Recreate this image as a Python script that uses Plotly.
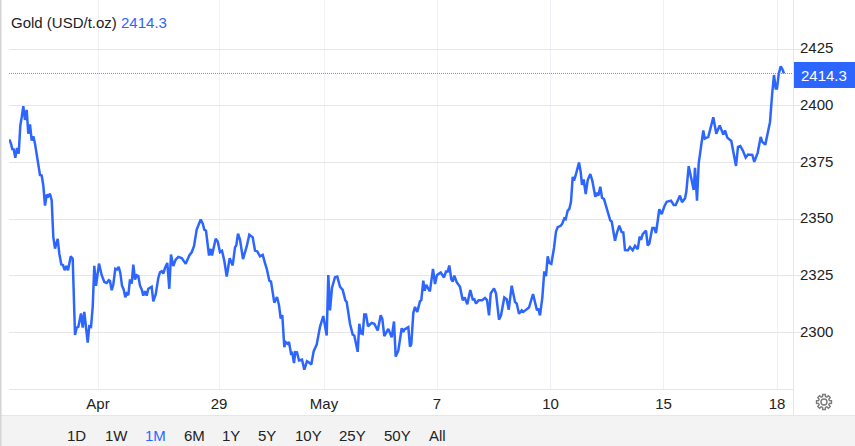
import math
import plotly.graph_objects as go

W, H = 855, 446
PLOT_L, PLOT_R, PLOT_B = 9, 793, 389

title_name = "Gold (USD/t.oz)"
current = 2414.3
y_ticks = [2300, 2325, 2350, 2375, 2400, 2425]
x_tick_pos = [98, 219, 324, 437, 550.5, 663.5, 777]
x_tick_text = ["Apr", "29", "May", "7", "10", "15", "18"]
ranges = ["1D", "1W", "1M", "6M", "1Y", "5Y", "10Y", "25Y", "50Y", "All"]
range_pos = [76, 116, 155, 194, 231, 267, 308, 352, 397, 437]

t = [9.3,11,12.3,13.7,15.3,17,18.7,20.3,21.7,23.3,25,26.7,28.3,30,31.7,33.3,35,37,38.7,40,41.7,43.3,45,46.7,48.3,50,51.7,53.3,55,57.7,59.3,61.3,63,64.7,66.3,68,70.7,72.7,75,76.7,78.3,81,82.7,84.3,87.7,89.3,91,92.7,94.3,96,99,101.7,104.3,106.7,108.7,
110,111.7,113.3,115.3,117,118.7,120.3,122,123.7,125.3,126.7,128.3,130,131.7,133.3,135,136.7,138.3,140,141.7,143.3,145,146.7,148.3,151.7,153.3,155.7,158.3,160,161.7,163.3,165,167.3,169.3,171,173.3,175.7,178.3,181.7,185.7,189.3,191.7,194,196.7,199,200.7,202.7,204.3,206,209,210.7,212,
215.7,217.7,220,222,224.3,226.7,229.7,232.7,235,236.3,238,240,243,246.7,249.3,252.7,255,257.3,260,262.7,265,267,269.3,271,274.3,277,279,280.7,282.3,284.3,285.7,287.7,289,291,292.3,294,295.3,297,299,302,304.3,307,309.3,311.3,313.7,316.7,320,
323.3,326.7,328.3,330,332,335,337.3,340,342.7,345.3,346.7,350,352.7,354.3,357.7,359.3,361,362.7,364.3,366,368,371.7,374.3,377.7,380.7,382.3,384.3,388.3,391.7,394,395.7,398.3,401.7,403.3,404.3,408.3,410,411.3,413.3,415,417.3,420,421.3,423.3,424.7,426.3,427.7,429.3,
430,433,435,437,438.7,440.7,444,446,447.7,449.3,451.3,452.7,454.3,456.7,460,462.7,464.7,467.3,470.3,472.7,474.3,476,478.7,482.3,485,487,489,490.7,494,496,499,501,504.3,506.7,508.7,511.7,515,516.7,519,521.7,523.3,526.7,529,533,537,538.3,540,
542.3,544.3,546,547.7,549.3,551.3,554,556,557.7,560.7,562.3,564.3,565.7,567.7,569.3,571,572.7,574,575.7,579,580.7,582,583.7,585.7,587.7,590.3,592.3,595.3,597,598.3,600.3,602,604,606,608.3,610.3,611.7,613.7,615,617,619.3,621.7,623.3,625,626.7,628,630,632.7,635,637.7,639.7,641,642.7,646,647.7,649.3,652.3,654.3,656,659.3,
661.7,664.3,666.7,669,671,673.7,675.7,680,682,685,686.3,688.7,693.7,695,697,698.7,700.7,703.3,704.7,708.3,713.3,716.3,719.7,723.3,725,727.3,731.3,736,738,740.3,742.7,745.7,748,752.3,754.3,757.7,760.7,762.3,765.3,767.7,770,772.3,774,775.7,777,778.7,780.7,782.3,784]

price = [2385.2,2383.3,2380.9,2380.8,2377.1,2381.4,2378.9,2391.3,2395,2399.9,2393.8,2398.2,2387.7,2391.8,2384.7,2386.6,2383.3,2377.4,2371.2,2369.5,2369.3,2364.9,2356,2360.8,2360.1,2361.2,2358.3,2342.2,2337,2341.3,2334.8,2330.1,2329.7,2327.5,2329.4,2327.5,2333.6,2332.6,2298.9,2302.2,2302.5,2308.4,2302.2,2309.1,2295.6,2302.8,2302.5,2311.3,2329.4,2320.6,2330.4,2325.3,2322.3,2321.9,2323.1,
2322.7,2318.7,2321.2,2328.1,2327.8,2329,2326.3,2320.7,2319,2315.6,2317.2,2316.5,2323.4,2321.6,2330,2323.4,2325.3,2324.9,2320.7,2319,2316.3,2318.2,2316.3,2319.3,2320.2,2313.8,2316.8,2324.1,2326.6,2327.1,2326,2328.5,2330.7,2319.3,2334.4,2329.3,2332.2,2333.4,2332.9,2330.3,2334,2335.4,2338.1,2345.4,2347.6,2349.9,2348.1,2345.4,2344.9,2334,2336.9,2334,
2341.4,2340.2,2335.5,2336.1,2331.7,2324.7,2332.8,2329.6,2337.6,2338.5,2343.6,2341,2332.4,2338,2343.2,2342,2336.2,2335.8,2333.6,2334.3,2330.6,2327.7,2322.9,2322.5,2313.2,2315.7,2312.1,2306.2,2307.7,2293.6,2295.8,2295.1,2295.8,2290.7,2291,2286.5,2291.4,2291.3,2287.7,2288.1,2283.6,2287.4,2286.7,2285.9,2291.8,2294.7,2302.5,
2307.3,2298.7,2325.4,2309.8,2319.8,2324.4,2324.7,2320.2,2318.8,2314.3,2313.5,2303.9,2299.1,2298.7,2291.5,2303.9,2299.7,2299.4,2308,2308,2302.8,2304.3,2303.9,2300.9,2307.6,2306.1,2298.4,2301.6,2297.9,2304.9,2289.4,2292,2301.9,2300.2,2301.3,2302.4,2293.8,2294.9,2308.6,2311.3,2309.1,2313.8,2314.3,2322.9,2318.5,2321,2319.5,2318.5,
2318.5,2328.1,2321.4,2325.4,2325.9,2326.5,2324.3,2326.9,2326.9,2329.6,2323.5,2322.5,2325.1,2322.2,2320.2,2314.3,2315.5,2312.5,2318.8,2314.6,2314.7,2312.8,2314.3,2314.3,2315.3,2314.3,2307.6,2317.3,2319.5,2317.3,2305.7,2307.6,2315.5,2314.7,2310.1,2320.7,2313.5,2312.8,2308.3,2309.8,2309.1,2310.1,2311,2317,2309.8,2310.6,2307.6,
2315.3,2327,2324.9,2333.6,2330.7,2330.3,2337.3,2344.6,2346.5,2347.1,2348,2350.4,2350,2353.8,2354.5,2357.7,2368.7,2367,2369.4,2375,2370.9,2365.1,2367.5,2361.1,2367.3,2369.9,2367,2359.9,2361.7,2360.4,2364.3,2359.5,2358.9,2355.6,2352.6,2349.4,2349,2343.1,2340.5,2344.1,2347.2,2344.3,2344.2,2336.4,2336.5,2336.3,2337.7,2336.3,2338.3,2336.8,2342.4,2340.9,2343.4,2345,2338.4,2339.2,2346.1,2346.1,2343.9,2354.4,
2352.2,2355.6,2357.7,2358,2358.2,2356.3,2356.3,2360.4,2357.5,2359.2,2362.1,2373.4,2362.9,2372.7,2358.2,2374.6,2380.4,2389.2,2385.5,2386.3,2395,2387.7,2391.4,2387.3,2389.2,2386,2384.5,2373.5,2381.9,2382.3,2380.4,2377.2,2378.5,2378.4,2375.3,2379.4,2386.3,2384.1,2382.9,2388.4,2392.8,2406,2413.6,2407.7,2407.7,2414,2417.4,2416.2,2414.3]

FONT = "Liberation Sans, Arial, sans-serif"
BLUE = "#2d66ff"
GRID = "#e6e6e6"
VGRID = "#eef2f7"
TEXT = "#222222"

def px(x):
    return (x - PLOT_L) / (PLOT_R - PLOT_L)

def py(y):
    return (PLOT_B - y) / PLOT_B

def rect(x0, y0, x1, y1, fill, layer="above"):
    return dict(type="rect", xref="paper", yref="paper", x0=px(x0), x1=px(x1), y0=py(y0), y1=py(y1),
                fillcolor=fill, line_width=0, layer=layer)

def gear_path(cx, cy):
    pts = []
    for i in range(8):
        a = i * math.pi / 4
        for da, r in ((-0.26, 5.6), (-0.17, 7.6), (0.17, 7.6), (0.26, 5.6)):
            pts.append((px(cx + r * math.cos(a + da)), py(cy + r * math.sin(a + da))))
    return "M" + " L".join(f"{a:.5f},{b:.5f}" for a, b in pts) + " Z"

fig = go.Figure(go.Scatter(x=t, y=price, mode="lines", line=dict(color=BLUE, width=2.5), hoverinfo="skip"))

shapes = [
    rect(9, 7, 262, 35, "white", "below"),
    rect(0, 415, W, H, "#f3f3f3"),
    rect(0, 415, W, 416, GRID),
    rect(0, 0, 1.5, H, "#d4d4d4"),
    rect(793, 0, 794, 415, GRID),
    rect(794, 62, W, 88, BLUE),
    dict(type="line", xref="x", yref="y", x0=PLOT_L, x1=PLOT_R, y0=current, y1=current,
         line=dict(color="#6f8fd8", width=1, dash="1px,1px"), layer="above"),
    dict(type="path", xref="paper", yref="paper", path=gear_path(824, 402),
         line=dict(color="#7b7b7b", width=1.4), fillcolor="rgba(0,0,0,0)"),
    dict(type="circle", xref="paper", yref="paper", x0=px(821), x1=px(827), y0=py(399), y1=py(405),
         line=dict(color="#7b7b7b", width=1.4)),
]

ann = [
    dict(x=px(8.5), y=py(22), xref="paper", yref="paper", xanchor="left", yanchor="middle", showarrow=False,
         text=f"<span style='color:{TEXT}'>{title_name}</span> <span style='color:{BLUE}'>{current}</span>",
         font=dict(family=FONT, size=15)),
    dict(x=px(824), y=py(75.5), xref="paper", yref="paper", xanchor="center", yanchor="middle", showarrow=False,
         text=f"{current}", font=dict(family=FONT, size=15, color="white")),
]
for lab, pos in zip(ranges, range_pos):
    ann.append(dict(x=px(pos), y=py(435), xref="paper", yref="paper", xanchor="center", yanchor="middle",
                    showarrow=False, text=lab,
                    font=dict(family=FONT, size=15, color=BLUE if lab == "1M" else TEXT)))

fig.update_layout(
    width=W, height=H, autosize=False, showlegend=False,
    margin=dict(l=PLOT_L, r=W - PLOT_R, t=0, b=H - PLOT_B, pad=0),
    paper_bgcolor="white", plot_bgcolor="white",
    shapes=shapes, annotations=ann,
    xaxis=dict(range=[PLOT_L, PLOT_R], tickmode="array", tickvals=x_tick_pos, ticktext=x_tick_text,
               showgrid=True, gridcolor=VGRID, gridwidth=1, showline=True, linecolor=GRID, linewidth=1,
               ticks="", zeroline=False, ticklabelstandoff=1,
               tickfont=dict(family=FONT, size=15, color=TEXT)),
    yaxis=dict(range=[2275.1, 2446.7], side="right", tickmode="array", tickvals=y_ticks,
               showgrid=True, gridcolor=GRID, gridwidth=1, zeroline=False, showline=False,
               ticks="outside", ticklen=7, tickcolor=GRID, tickwidth=1,
               ticklabelstandoff=-4, ticklabelshift=-1,
               tickfont=dict(family=FONT, size=15, color=TEXT)),
)

fig.write_html("out.html", config={"displayModeBar": False},
               post_script="document.body.style.margin='0';document.body.style.overflow='hidden';")
